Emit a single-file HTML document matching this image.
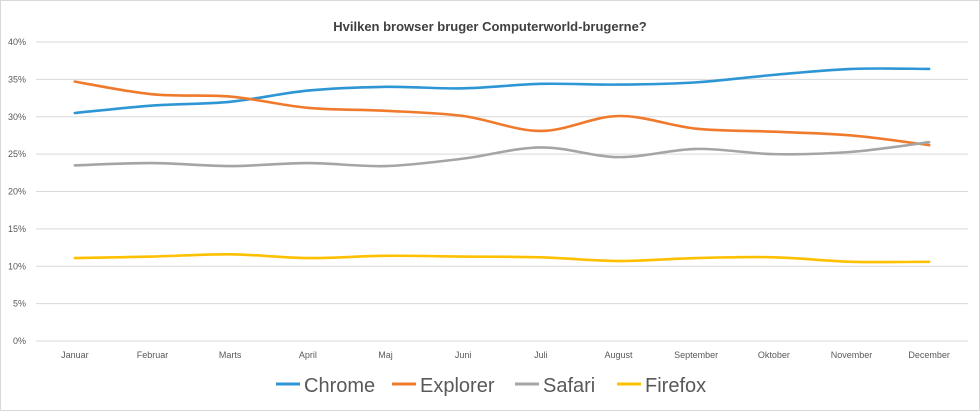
<!DOCTYPE html>
<html><head><meta charset="utf-8"><style>
body{margin:0;background:#fff;}
svg{display:block;font-family:"Liberation Sans",sans-serif;}
</style></head><body>
<svg id="chart" width="980" height="411">
<rect x="0.5" y="0.5" width="979" height="410" fill="#fff" stroke="#d9d9d9"/>
<text x="490" y="31" text-anchor="middle" font-size="13" font-weight="bold" fill="#404040">Hvilken browser bruger Computerworld-brugerne?</text>
<g id="grid"></g><g id="series"></g><g id="legend"></g>
</svg>
<script>
const categories=["Januar","Februar","Marts","April","Maj","Juni","Juli","August","September","Oktober","November","December"];
const yTicks=[0,5,10,15,20,25,30,35,40];
const chrome=[30.5,31.5,32,33.5,34,33.8,34.4,34.3,34.6,35.6,36.4,36.4];
const explorer=[34.7,33,32.7,31.2,30.8,30.1,28.1,30.1,28.4,28,27.5,26.2];
const safari=[23.5,23.8,23.4,23.8,23.4,24.4,25.9,24.6,25.7,25,25.3,26.6];
const firefox=[11.1,11.3,11.6,11.1,11.4,11.3,11.2,10.7,11.1,11.2,10.6,10.6];
const seriesNames=["Chrome","Explorer","Safari","Firefox"];
const seriesColors=["#2e96d4","#f07a2c","#a5a5a5","#ffc000"];
const seriesData=[chrome,explorer,safari,firefox];
const NS="http://www.w3.org/2000/svg";
const L=36,R=968,T=42,B=341;
const bw=(R-L)/categories.length;
const xs=i=>L+bw*(i+0.5);
const ys=v=>B-(v/40)*(B-T);
function mk(t,a,p){const e=document.createElementNS(NS,t);for(const k in a)e.setAttribute(k,a[k]);p.appendChild(e);return e;}
const grid=document.getElementById('grid');
yTicks.forEach(v=>{
  const l=mk('line',{x1:L,x2:R,y1:ys(v),y2:ys(v),stroke:'#d9d9d9','stroke-width':1},grid);
  
  
  const t=mk('text',{x:26,y:ys(v)+3,'text-anchor':'end','font-size':9,fill:'#595959'},grid);
  t.textContent=v+'%';
  
  
});
categories.forEach((c,i)=>{
  const t=mk('text',{x:xs(i),y:358,'text-anchor':'middle','font-size':9,fill:'#595959'},grid);
  t.textContent=c;
  
  
});
function smooth(pts){
  let d='M'+pts[0][0]+','+pts[0][1];
  for(let i=0;i<pts.length-1;i++){
    const p0=pts[i-1]||pts[i],p1=pts[i],p2=pts[i+1],p3=pts[i+2]||p2;
    const c1=[p1[0]+(p2[0]-p0[0])/6,p1[1]+(p2[1]-p0[1])/6];
    const c2=[p2[0]-(p3[0]-p1[0])/6,p2[1]-(p3[1]-p1[1])/6];
    d+=' C'+c1+' '+c2+' '+p2;
  }
  return d;
}
const sg=document.getElementById('series');
seriesData.forEach((arr,s)=>{
  const p=mk('path',{d:smooth(arr.map((v,i)=>[xs(i),ys(v)])),fill:'none',stroke:seriesColors[s],'stroke-width':2.6,'stroke-linecap':'round'},sg);
  
  
});
const lg=document.getElementById('legend');
const lx=[276,392,515,617];
seriesNames.forEach((n,s)=>{
  const l=mk('line',{x1:lx[s],x2:lx[s]+24,y1:384,y2:384,stroke:seriesColors[s],'stroke-width':3},lg);
  
  
  const t=mk('text',{x:lx[s]+28,y:392,'font-size':20,fill:'#595959'},lg);
  t.textContent=n;
  
  
});
</script>
</body></html>
